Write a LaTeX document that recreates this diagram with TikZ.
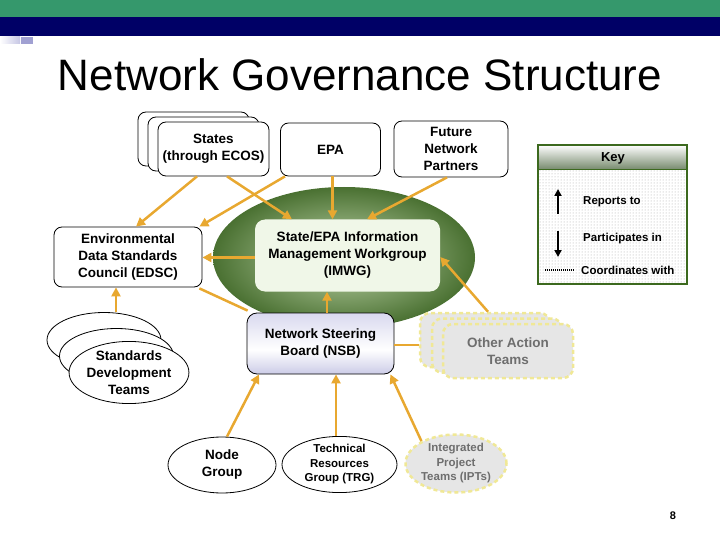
\documentclass[tikz,border=0pt]{standalone}
\usepackage{fontspec}
\setmainfont{Liberation Sans}
\usetikzlibrary{shapes.geometric,arrows.meta,patterns,calc}
\definecolor{topgreen}{RGB}{53,152,108}
\definecolor{navy}{RGB}{0,0,102}
\definecolor{lav}{RGB}{160,160,210}
\definecolor{arrc}{RGB}{232,168,48}
\definecolor{elldark}{RGB}{50,92,25}
\definecolor{ellmid}{RGB}{150,178,128}
\definecolor{imwgfill}{RGB}{240,247,232}
\definecolor{nsbdark}{RGB}{140,140,200}
\definecolor{nsblight}{RGB}{185,185,225}
\definecolor{teamfill}{RGB}{230,230,230}
\definecolor{teamline}{RGB}{240,232,150}
\definecolor{teamtext}{RGB}{110,110,110}
\definecolor{keygreen}{RGB}{60,105,30}
\definecolor{keyshade}{RGB}{115,135,105}
\pgfdeclareradialshading{ellshade}{\pgfpoint{0bp}{0bp}}{color(0bp)=(white); color(9bp)=(ellmid); color(30bp)=(elldark); color(50bp)=(elldark)}
\pgfdeclareverticalshading{nsbshade}{100bp}{color(0bp)=(nsbdark); color(45bp)=(white); color(100bp)=(nsblight)}
\tikzset{
  txt/.style={font=\bfseries\fontsize{13.5}{17}\selectfont, align=center},
  smalltxt/.style={font=\bfseries\fontsize{11.5}{14.5}\selectfont, align=center},
  rbox/.style={draw=black, line width=0.8pt, fill=white, rounded corners=8pt, inner sep=0pt},
  ebox/.style={draw=black, line width=0.8pt, fill=white, ellipse, inner sep=0pt},
  teambox/.style={draw=teamline, line width=2.5pt, dash pattern=on 4pt off 3pt, fill=teamfill, rounded corners=10pt, inner sep=0pt},
  arr/.style={draw=arrc, line width=2.5pt, -{Triangle[length=9pt,width=9pt]}},
  plainln/.style={draw=arrc, line width=2.5pt},
  keyarr/.style={draw=black, line width=2.2pt, -{Triangle[length=7pt,width=7pt]}}
}
\begin{document}
\begin{tikzpicture}[x=1pt,y=-1pt]
\useasboundingbox (0,0) rectangle (720,540);
% header bands
\fill[topgreen] (0,0) rectangle (720,17);
\fill[navy] (0,17) rectangle (720,36);
\shade[left color=white, right color=lav!60] (0,37) rectangle (20,44);
\fill[lav] (21,37) rectangle (33,44);
\node[font=\fontsize{44}{50}\selectfont] (title) at (360,75) {Network Governance Structure};

% big ellipse
\node[ellipse, minimum width=262pt, minimum height=141pt, inner sep=0pt, shading=ellshade] (ell) at (344,257.5) {};

% top boxes
\node[rbox, minimum width=111pt, minimum height=54pt] (statesC) at (193.5,139) {};
\node[rbox, minimum width=111pt, minimum height=54pt] (statesB) at (203.5,144) {};
\node[rbox, minimum width=111pt, minimum height=54pt, txt] (states) at (213.5,149) {States\\(through ECOS)};
\node[rbox, minimum width=100pt, minimum height=53pt, txt] (epa) at (330.5,149.5) {EPA};
\node[rbox, minimum width=114pt, minimum height=56pt, txt] (future) at (451,149) {Future\\Network\\Partners};

% middle
\node[rbox, minimum width=148pt, minimum height=60pt, txt] (edsc) at (128,257) {Environmental\\Data Standards\\Council (EDSC)};
\node[fill=imwgfill, rounded corners=10pt, minimum width=185pt, minimum height=72pt, inner sep=0pt, txt] (imwg) at (347.5,255.5) {State/EPA Information\\Management Workgroup\\(IMWG)};
\node[draw=black, line width=0.8pt, rounded corners=10pt, shading=nsbshade, minimum width=147pt, minimum height=61pt, inner sep=0pt, txt] (nsb) at (320.5,343.5) {Network Steering\\Board (NSB)};

% standards development teams
\node[ebox, minimum width=114pt, minimum height=55pt] (sdtC) at (104,340) {};
\node[ebox, minimum width=114pt, minimum height=55pt] (sdtB) at (116.5,356) {};
\node[ebox, minimum width=114pt, minimum height=55pt, txt] (sdt) at (129,372.5) {Standards\\Development\\Teams};

% other action teams
\node[teambox, minimum width=130pt, minimum height=54pt] (oatC) at (485,340) {};
\node[teambox, minimum width=130pt, minimum height=54pt] (oatB) at (497,345.5) {};
\node[teambox, minimum width=130pt, minimum height=54pt, txt, text=teamtext] (oat) at (508,351) {Other Action\\Teams};

% bottom ellipses
\node[ebox, minimum width=108pt, minimum height=56pt, txt] (ng) at (222,465) {Node\\Group};
\node[ebox, minimum width=115pt, minimum height=55pt, smalltxt] (trg) at (339.5,464.5) {Technical\\Resources\\Group (TRG)};
\node[ellipse, draw=teamline, line width=2.5pt, dash pattern=on 4pt off 3pt, fill=teamfill, minimum width=101pt, minimum height=58pt, inner sep=0pt, smalltxt, text=teamtext] (ipt) at (456,463.5) {Integrated\\Project\\Teams (IPTs)};

% connectors
\draw[arr] ([xshift=-16.5]states.south) -- ([xshift=8]edsc.north);
\draw[arr] ([xshift=13.5]states.south) -- ([xshift=-55.5]imwg.north);
\draw[arr] ([xshift=-45.5]epa.south) -- ([xshift=-3]edsc.north east);
\draw[arr] ([xshift=2]epa.south) -- ([xshift=2]epa.south |- imwg.north);
\draw[arr] ([xshift=-4]future.south) -- ([xshift=19.5]imwg.north);
\draw[arr] ([yshift=-2]imwg.west) -- ([yshift=-2]imwg.west -| edsc.east);
\draw[arr] ([xshift=6.5]nsb.north) -- ([xshift=6.5]nsb.north |- imwg.south);
\draw[plainln] ([xshift=-3,yshift=-1]edsc.south east) -- ([xshift=1,yshift=2]nsb.north west);
\draw[arr] ([xshift=12]sdtC.north) -- ([xshift=12]sdtC.north |- edsc.south);
\draw[plainln] ([yshift=-1.5]nsb.east) -- ([yshift=-1.5]nsb.east -| oatC.west);
\draw[arr] ([xshift=3]oatC.north) -- ([yshift=-1.5]imwg.east);
\draw[arr] ([xshift=5]ng.north) -- ([xshift=-61.5]nsb.south);
\draw[arr] ([xshift=-3.5]trg.north) -- ([xshift=-3.5]trg.north |- nsb.south);
\draw[arr] (ipt.147) -- ([xshift=-4]nsb.south east);

% key
\fill[pattern=dots, pattern color=gray!70] (538,170) rectangle (687,284);
\shade[top color=white, bottom color=keyshade] (538,145) rectangle (687,170);
\draw[keygreen, line width=1pt] (538,170) -- (687,170);
\draw[keygreen, line width=2.5pt] (538,145) rectangle (687,284);
\node[font=\bfseries\fontsize{13}{15}\selectfont] (keyt) at (613,158) {Key};
\coordinate (ka1) at (558,214);
\coordinate (ka2) at (558,189);
\coordinate (kb1) at (558,231);
\coordinate (kb2) at (558,257);
\coordinate (kc1) at (545,270);
\coordinate (kc2) at (574,270);
\draw[keyarr] (ka1) -- (ka2);
\draw[keyarr] (kb1) -- (kb2);
\draw[black, line width=2pt, dash pattern=on 1pt off 1pt] (kc1) -- (kc2);
\node[anchor=west, font=\bfseries\fontsize{11.5}{14}\selectfont, inner sep=0pt] (kt1) at (583,202) {Reports to};
\node[anchor=west, font=\bfseries\fontsize{11.5}{14}\selectfont, inner sep=0pt] (kt2) at (583,239) {Participates in};
\node[anchor=west, font=\bfseries\fontsize{11.5}{14}\selectfont, inner sep=0pt] (kt3) at (581,270) {Coordinates with};

% page number
\node[font=\bfseries\fontsize{11}{13}\selectfont] (pg) at (673,516) {8};
\end{tikzpicture}
\end{document}
